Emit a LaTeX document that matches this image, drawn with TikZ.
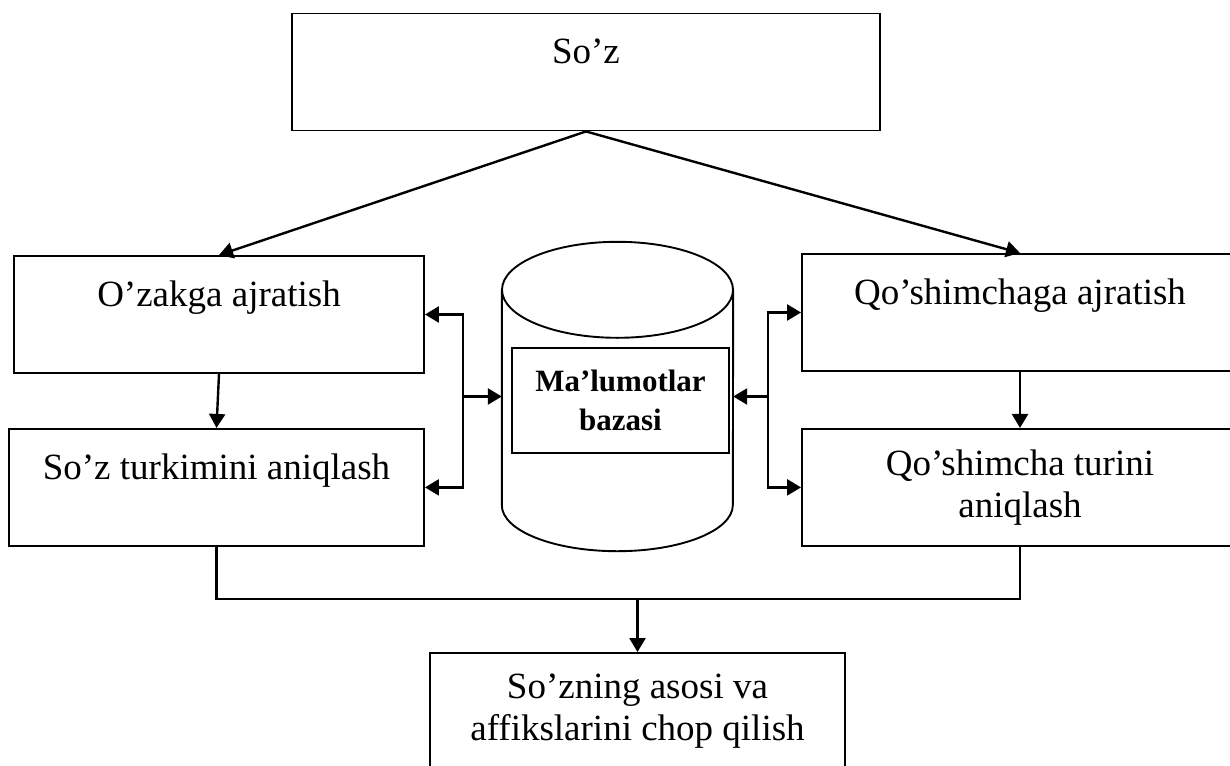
\documentclass[tikz,border=0pt]{standalone}
\usepackage{fontspec}
\setmainfont{Liberation Serif}
\usepackage{tikz}
\usetikzlibrary{
    positioning,                      % below=of etc.
    arrows.meta                       % Triangle tips
}
\tikzset{
    block/.style={
        rectangle, draw, line width=1.9pt,
        minimum height=117pt,
        align=center, inner sep=2pt,
        font=\fontsize{37}{42}\selectfont
    },
    storeline/.style={
        line width=1.9pt
    },
    storelabel/.style={
        rectangle, draw, line width=1.9pt,
        minimum width=217pt, minimum height=105pt,
        align=center, inner sep=2pt,
        font=\fontsize{31}{39}\selectfont\bfseries
    },
    arrow/.style={
        -{Triangle[length=14pt,width=16pt]}, line width=2.4pt
    },
    link/.style={
        line width=2.4pt
    }
}

\begin{document}
\begin{tikzpicture}[x=1pt, y=-1pt]
        \clip (0,0) rectangle (1230,765);

        % --- Kirish ---
        \node[block, minimum width=588pt] (soz) at (586,72) {So’z\\\mbox{}};

        % --- Chap ustun ---
        \node[block, minimum width=410pt] (ozak) at (219,314.5) {O’zakga ajratish\\\mbox{}};
        \node[block, minimum width=415pt, below=54pt of ozak.south, anchor=north,
              xshift=-2.5pt] (turk) {So’z turkimini aniqlash\\\mbox{}};

        % --- O'ng ustun ---
        \node[block, minimum width=436pt] (qajr) at (1020,312.5) {Qo’shimchaga ajratish\\\mbox{}};
        \node[block, minimum width=436pt, below=56pt of qajr.south, anchor=north] (qtur)
            {Qo’shimcha turini\\aniqlash};

        % --- Ma'lumotlar bazasi ---
        \node[minimum width=231pt, minimum height=309pt, inner sep=0pt] (baza) at (617.5,396.5) {};
        \draw[storeline] ([yshift=-48pt]baza.north) ellipse [x radius=115.5pt, y radius=48pt];
        \draw[storeline] ([yshift=-48pt]baza.north west) -- ([yshift=46pt]baza.south west)
            arc [start angle=180, end angle=360, x radius=115.5pt, y radius=46pt]
            -- ([yshift=-48pt]baza.north east);
        \node[storelabel] (bazanom) at (620.5,400.5) {Ma’lumotlar\\bazasi};

        % --- Natija ---
        \node[block, minimum width=415pt] (natija) at (637.5,711.5)
            {So’zning asosi va\\affikslarini chop qilish};

        % --- Bog'lanishlar ---
        \draw[arrow] (soz.south) -- (ozak.north);
        \draw[arrow] (soz.south) -- (qajr.north);
        \draw[arrow] (ozak.south) -- (turk.north);
        \draw[arrow] (qajr.south) -- (qtur.north);

        \coordinate (lbus) at (463,396.5);
        \coordinate (rbus) at (768,396.5);
        \foreach \dst in {ozak, turk} {
            \draw[arrow] (lbus) |- (\dst.east);
        }
        \foreach \dst in {qajr, qtur} {
            \draw[arrow] (rbus) |- (\dst.west);
        }
        \draw[arrow] (lbus) -- (lbus -| baza.west);
        \draw[arrow] (rbus) -- (rbus -| baza.east);

        \coordinate (join) at (637.5,599);
        \draw[link] (turk.south) |- (join) -| (qtur.south);
        \draw[arrow] (join) -- (natija.north);

    \end{tikzpicture}
\end{document}
